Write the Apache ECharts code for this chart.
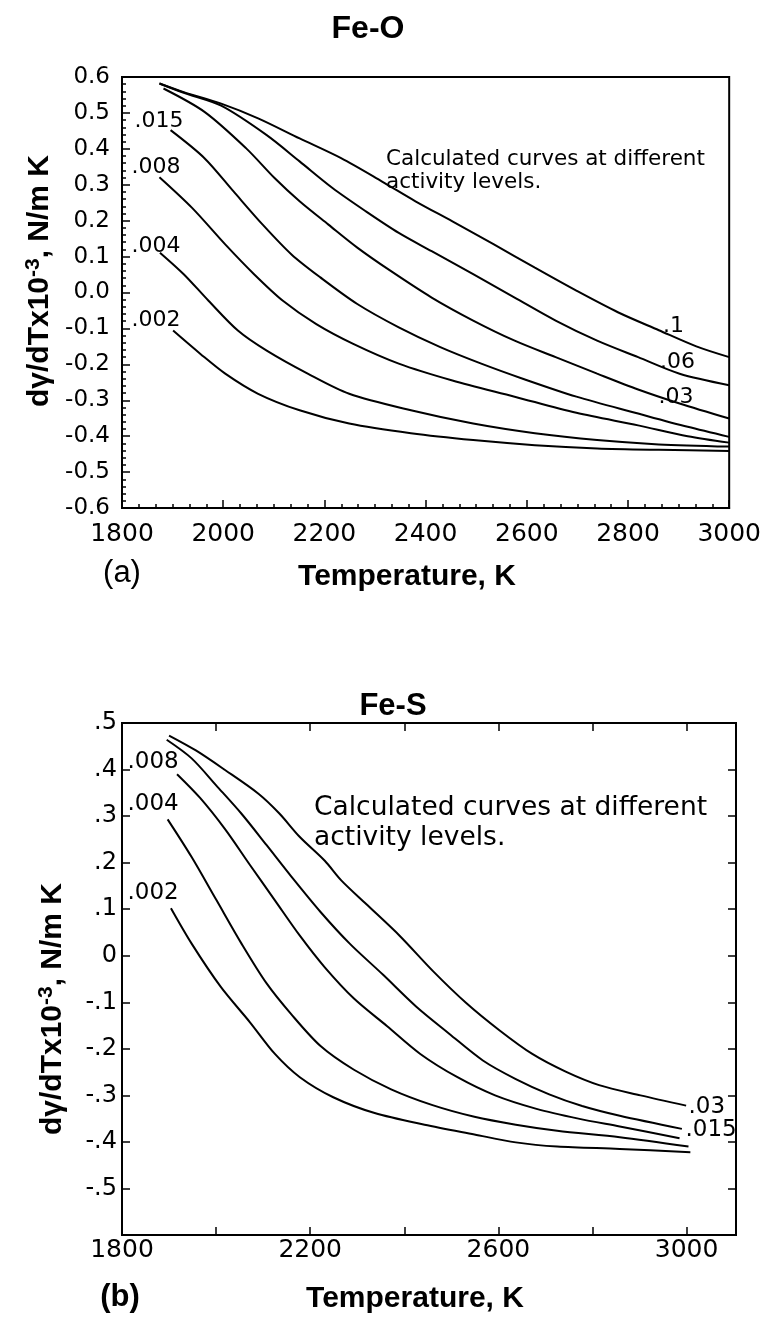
<!DOCTYPE html>
<html><head><meta charset="utf-8">
<script src="https://cdn.jsdelivr.net/npm/echarts@6/dist/echarts.min.js"></script>
<style>html,body{margin:0;padding:0;background:#fff}#c{width:764px;height:1318px}</style>
</head><body><div id="c"></div>
<script>
// ---------- (a) Fe-O ----------
const feO_levels = ['.1', '.06', '.03', '.015', '.008', '.004', '.002'];
const feO_T_1   = [1874, 1922, 1996, 2069, 2151, 2233, 2314, 2380, 2453, 2535, 2616, 2698, 2780, 2861, 2935, 3000];
const feO_V_1   = [0.582, 0.558, 0.526, 0.485, 0.429, 0.374, 0.309, 0.254, 0.198, 0.134, 0.069, 0.005, -0.055, -0.105, -0.150, -0.180];
const feO_T_06  = [1874, 1922, 1996, 2086, 2151, 2216, 2282, 2347, 2412, 2494, 2576, 2657, 2739, 2820, 2902, 3000];
const feO_V_06  = [0.582, 0.556, 0.520, 0.438, 0.365, 0.291, 0.226, 0.166, 0.115, 0.051, -0.014, -0.078, -0.134, -0.180, -0.226, -0.258];
const feO_T_03  = [1882, 1963, 2045, 2102, 2151, 2208, 2265, 2331, 2412, 2494, 2576, 2657, 2739, 2820, 2902, 3000];
const feO_V_03  = [0.568, 0.503, 0.402, 0.318, 0.254, 0.189, 0.125, 0.060, -0.014, -0.078, -0.134, -0.180, -0.226, -0.270, -0.309, -0.351];
const feO_T_015 = [1896, 1963, 2020, 2078, 2135, 2192, 2265, 2347, 2429, 2510, 2592, 2698, 2820, 2918, 3000];
const feO_V_015 = [0.452, 0.374, 0.282, 0.189, 0.106, 0.042, -0.032, -0.097, -0.152, -0.198, -0.240, -0.290, -0.337, -0.374, -0.402];
const feO_T_008 = [1874, 1939, 2004, 2061, 2118, 2184, 2257, 2347, 2453, 2576, 2698, 2820, 2918, 3000];
const feO_V_008 = [0.321, 0.235, 0.134, 0.051, -0.023, -0.088, -0.143, -0.198, -0.245, -0.290, -0.335, -0.370, -0.400, -0.418];
const feO_T_004 = [1875, 1922, 1971, 2029, 2086, 2167, 2249, 2371, 2494, 2616, 2739, 2861, 3000];
const feO_V_004 = [0.111, 0.051, -0.023, -0.106, -0.162, -0.226, -0.282, -0.328, -0.365, -0.392, -0.411, -0.423, -0.429];
const feO_T_002 = [1901, 1955, 2004, 2069, 2151, 2249, 2371, 2494, 2616, 2739, 2861, 3000];
const feO_V_002 = [-0.106, -0.171, -0.226, -0.282, -0.328, -0.365, -0.392, -0.411, -0.425, -0.434, -0.438, -0.441];
const feO_labelT = [2890, 2898, 2895, 1873, 1867, 1867, 1867];
const feO_labelV = [-0.095, -0.193, -0.293, 0.478, 0.349, 0.128, -0.077];

// ---------- (b) Fe-S ----------
const feS_levels = ['.03', '.015', '.008', '.004', '.002'];
const feS_T_03  = [1900, 1957, 2019, 2090, 2134, 2178, 2231, 2266, 2319, 2390, 2461, 2531, 2602, 2672, 2743, 2814, 2902, 2999];
const feS_V_03  = [0.473, 0.441, 0.399, 0.348, 0.306, 0.255, 0.204, 0.162, 0.111, 0.043, -0.033, -0.101, -0.160, -0.211, -0.249, -0.278, -0.300, -0.322];
const feS_T_015 = [1895, 1948, 2001, 2054, 2107, 2160, 2222, 2284, 2355, 2425, 2496, 2567, 2637, 2708, 2778, 2858, 2990];
const feS_V_015 = [0.464, 0.424, 0.365, 0.305, 0.238, 0.170, 0.094, 0.026, -0.041, -0.109, -0.168, -0.225, -0.265, -0.298, -0.323, -0.344, -0.372];
const feS_T_008 = [1917, 1966, 2019, 2072, 2125, 2178, 2231, 2293, 2363, 2434, 2513, 2593, 2681, 2770, 2858, 2985];
const feS_V_008 = [0.390, 0.339, 0.272, 0.195, 0.119, 0.043, -0.025, -0.092, -0.151, -0.211, -0.261, -0.300, -0.329, -0.350, -0.367, -0.392];
const feS_T_004 = [1897, 1948, 2001, 2054, 2107, 2160, 2222, 2293, 2372, 2460, 2549, 2637, 2725, 2858, 3004];
const feS_V_004 = [0.293, 0.212, 0.119, 0.026, -0.059, -0.126, -0.194, -0.245, -0.287, -0.321, -0.346, -0.363, -0.376, -0.390, -0.410];
const feS_T_002 = [1904, 1948, 2010, 2072, 2125, 2178, 2249, 2337, 2443, 2549, 2637, 2725, 2858, 3008];
const feS_V_002 = [0.102, 0.026, -0.067, -0.143, -0.211, -0.261, -0.304, -0.338, -0.363, -0.384, -0.401, -0.410, -0.415, -0.422];
const feS_labelT = [3043, 3052, 1866, 1866, 1866];
const feS_labelV = [-0.326, -0.375, 0.416, 0.325, 0.134];

const xTicksB = [1800, 2200, 2600, 3000];

const feO_T = [feO_T_1, feO_T_06, feO_T_03, feO_T_015, feO_T_008, feO_T_004, feO_T_002];
const feO_V = [feO_V_1, feO_V_06, feO_V_03, feO_V_015, feO_V_008, feO_V_004, feO_V_002];
const feS_T = [feS_T_03, feS_T_015, feS_T_008, feS_T_004, feS_T_002];
const feS_V = [feS_V_03, feS_V_015, feS_V_008, feS_V_004, feS_V_002];

const TICK_FONT = 'DejaVu Sans';
const BOLD_FONT = 'Liberation Sans';

function zip(a, b) { return a.map((t, i) => [t, b[i]]); }

function makeSeries(levels, Ts, Vs, lT, lV, xi, yi, fs) {
  return levels.map((name, k) => ({
    type: 'line', name: name, xAxisIndex: xi, yAxisIndex: yi,
    data: zip(Ts[k], Vs[k]), showSymbol: false, smooth: 0.3, silent: true,
    lineStyle: { color: '#000', width: 2 },
    markPoint: {
      symbol: 'circle', symbolSize: 0, silent: true,
      label: { show: true, position: 'inside', formatter: name, color: '#000',
               fontSize: fs, fontFamily: TICK_FONT },
      data: [{ coord: [lT[k], lV[k]], name: name }]
    }
  }));
}

const axisLine = { show: true, onZero: false, lineStyle: { color: '#000', width: 2 } };
const tickStyle = { color: '#000', width: 1.5 };

const option = {
  animation: false,
  backgroundColor: '#fff',
  grid: [
    { left: 122, top: 77, width: 610, height: 431, show: true, borderColor: '#000', borderWidth: 2, backgroundColor: 'transparent' },
    { left: 122, top: 723, width: 614, height: 512, show: true, borderColor: '#000', borderWidth: 2, backgroundColor: 'transparent' }
  ],
  xAxis: [
    { gridIndex: 0, type: 'value', min: 1800, max: 3000, interval: 200, position: 'bottom',
      axisLine: axisLine,
      axisTick: { show: true, inside: true, length: 8, lineStyle: tickStyle },
      minorTick: { show: true, splitNumber: 6, length: 4, lineStyle: tickStyle },
      axisLabel: { color: '#000', fontSize: 25, fontFamily: TICK_FONT, margin: 14,
        formatter: v => String(Math.round(v)) },
      splitLine: { show: false }, minorSplitLine: { show: false } },
    { gridIndex: 1, type: 'value', min: 1800, max: 3105, interval: 200, position: 'bottom',
      axisLine: axisLine,
      axisTick: { show: true, inside: true, length: 8, lineStyle: tickStyle },
      axisLabel: { color: '#000', fontSize: 25, fontFamily: TICK_FONT, margin: 3,
        formatter: v => xTicksB.indexOf(Math.round(v)) >= 0 ? String(Math.round(v)) : '' },
      splitLine: { show: false } },
    { gridIndex: 1, type: 'value', min: 1800, max: 3105, interval: 200, position: 'top',
      axisLine: axisLine,
      axisTick: { show: true, inside: true, length: 8, lineStyle: tickStyle },
      axisLabel: { show: false }, splitLine: { show: false } }
  ],
  yAxis: [
    { gridIndex: 0, type: 'value', min: -0.6, max: 0.6, interval: 0.1, position: 'left',
      axisLine: axisLine,
      axisTick: { show: true, inside: true, length: 8, lineStyle: tickStyle },
      minorTick: { show: true, splitNumber: 5, length: 4, lineStyle: tickStyle },
      axisLabel: { color: '#000', fontSize: 23, fontFamily: TICK_FONT, margin: 12,
        formatter: v => { const r = Math.round(v * 10) / 10; return (r === 0 ? 0 : r).toFixed(1); } },
      splitLine: { show: false }, minorSplitLine: { show: false } },
    { gridIndex: 1, type: 'value', min: -0.6, max: 0.5, interval: 0.1, position: 'left',
      axisLine: axisLine,
      axisTick: { show: true, inside: true, length: 8, lineStyle: tickStyle },
      axisLabel: { color: '#000', fontSize: 24, fontFamily: TICK_FONT, margin: 5,
        formatter: v => {
          const r = Math.round(v * 10);
          if (r === -6) return '';
          if (r === 0) return '0';
          return (r < 0 ? '-' : '') + '.' + Math.abs(r);
        } },
      splitLine: { show: false } },
    { gridIndex: 1, type: 'value', min: -0.6, max: 0.5, interval: 0.1, position: 'right',
      axisLine: axisLine,
      axisTick: { show: true, inside: true, length: 8, lineStyle: tickStyle },
      axisLabel: { show: false }, splitLine: { show: false } }
  ],
  series: [].concat(
    makeSeries(feO_levels, feO_T, feO_V, feO_labelT, feO_labelV, 0, 0, 22),
    makeSeries(feS_levels, feS_T, feS_V, feS_labelT, feS_labelV, 1, 1, 23)
  ),
  graphic: [
    { type: 'text', x: 368, y: 29, style: { text: 'Fe-O', font: 'bold 32px "Liberation Sans"', fill: '#000', textAlign: 'center', textVerticalAlign: 'middle' } },
    { type: 'text', x: 393, y: 706, style: { text: 'Fe-S', font: 'bold 31px "Liberation Sans"', fill: '#000', textAlign: 'center', textVerticalAlign: 'middle' } },
    { type: 'text', x: 407, y: 577, style: { text: 'Temperature, K', font: 'bold 30px "Liberation Sans"', fill: '#000', textAlign: 'center', textVerticalAlign: 'middle' } },
    { type: 'text', x: 415, y: 1299, style: { text: 'Temperature, K', font: 'bold 30px "Liberation Sans"', fill: '#000', textAlign: 'center', textVerticalAlign: 'middle' } },
    { type: 'text', x: 122, y: 573, style: { text: '(a)', font: '31px "Liberation Sans"', fill: '#000', textAlign: 'center', textVerticalAlign: 'middle' } },
    { type: 'text', x: 120, y: 1297, style: { text: '(b)', font: 'bold 31px "Liberation Sans"', fill: '#000', textAlign: 'center', textVerticalAlign: 'middle' } },
    { type: 'text', x: 386, y: 171, style: { text: 'Calculated curves at different\nactivity levels.', font: '21.5px "DejaVu Sans"', lineHeight: 23, fill: '#000', textAlign: 'left', textVerticalAlign: 'middle' } },
    { type: 'text', x: 314, y: 823, style: { text: 'Calculated curves at different\nactivity levels.', font: '26.5px "DejaVu Sans"', lineHeight: 30, fill: '#000', textAlign: 'left', textVerticalAlign: 'middle' } },
    { type: 'text', x: 40, y: 281, rotation: Math.PI / 2,
      style: { text: '{a|dγ/dTx10}{s|-3}{a|, N/m K}', fill: '#000', textAlign: 'center', textVerticalAlign: 'middle',
        rich: { a: { fontSize: 30, fontWeight: 'bold', fontFamily: BOLD_FONT, fill: '#000', color: '#000' },
                s: { fontSize: 21, fontWeight: 'bold', fontFamily: BOLD_FONT, verticalAlign: 'top', padding: [0, 0, 14, 0], fill: '#000', color: '#000' } } } },
    { type: 'text', x: 53, y: 1009, rotation: Math.PI / 2,
      style: { text: '{a|dγ/dTx10}{s|-3}{a|, N/m K}', fill: '#000', textAlign: 'center', textVerticalAlign: 'middle',
        rich: { a: { fontSize: 30, fontWeight: 'bold', fontFamily: BOLD_FONT, fill: '#000', color: '#000' },
                s: { fontSize: 21, fontWeight: 'bold', fontFamily: BOLD_FONT, verticalAlign: 'top', padding: [0, 0, 14, 0], fill: '#000', color: '#000' } } } }
  ]
};

const chart = echarts.init(document.getElementById('c'), null, { renderer: 'canvas', width: 764, height: 1318 });
chart.setOption(option);
</script>
</body></html>
